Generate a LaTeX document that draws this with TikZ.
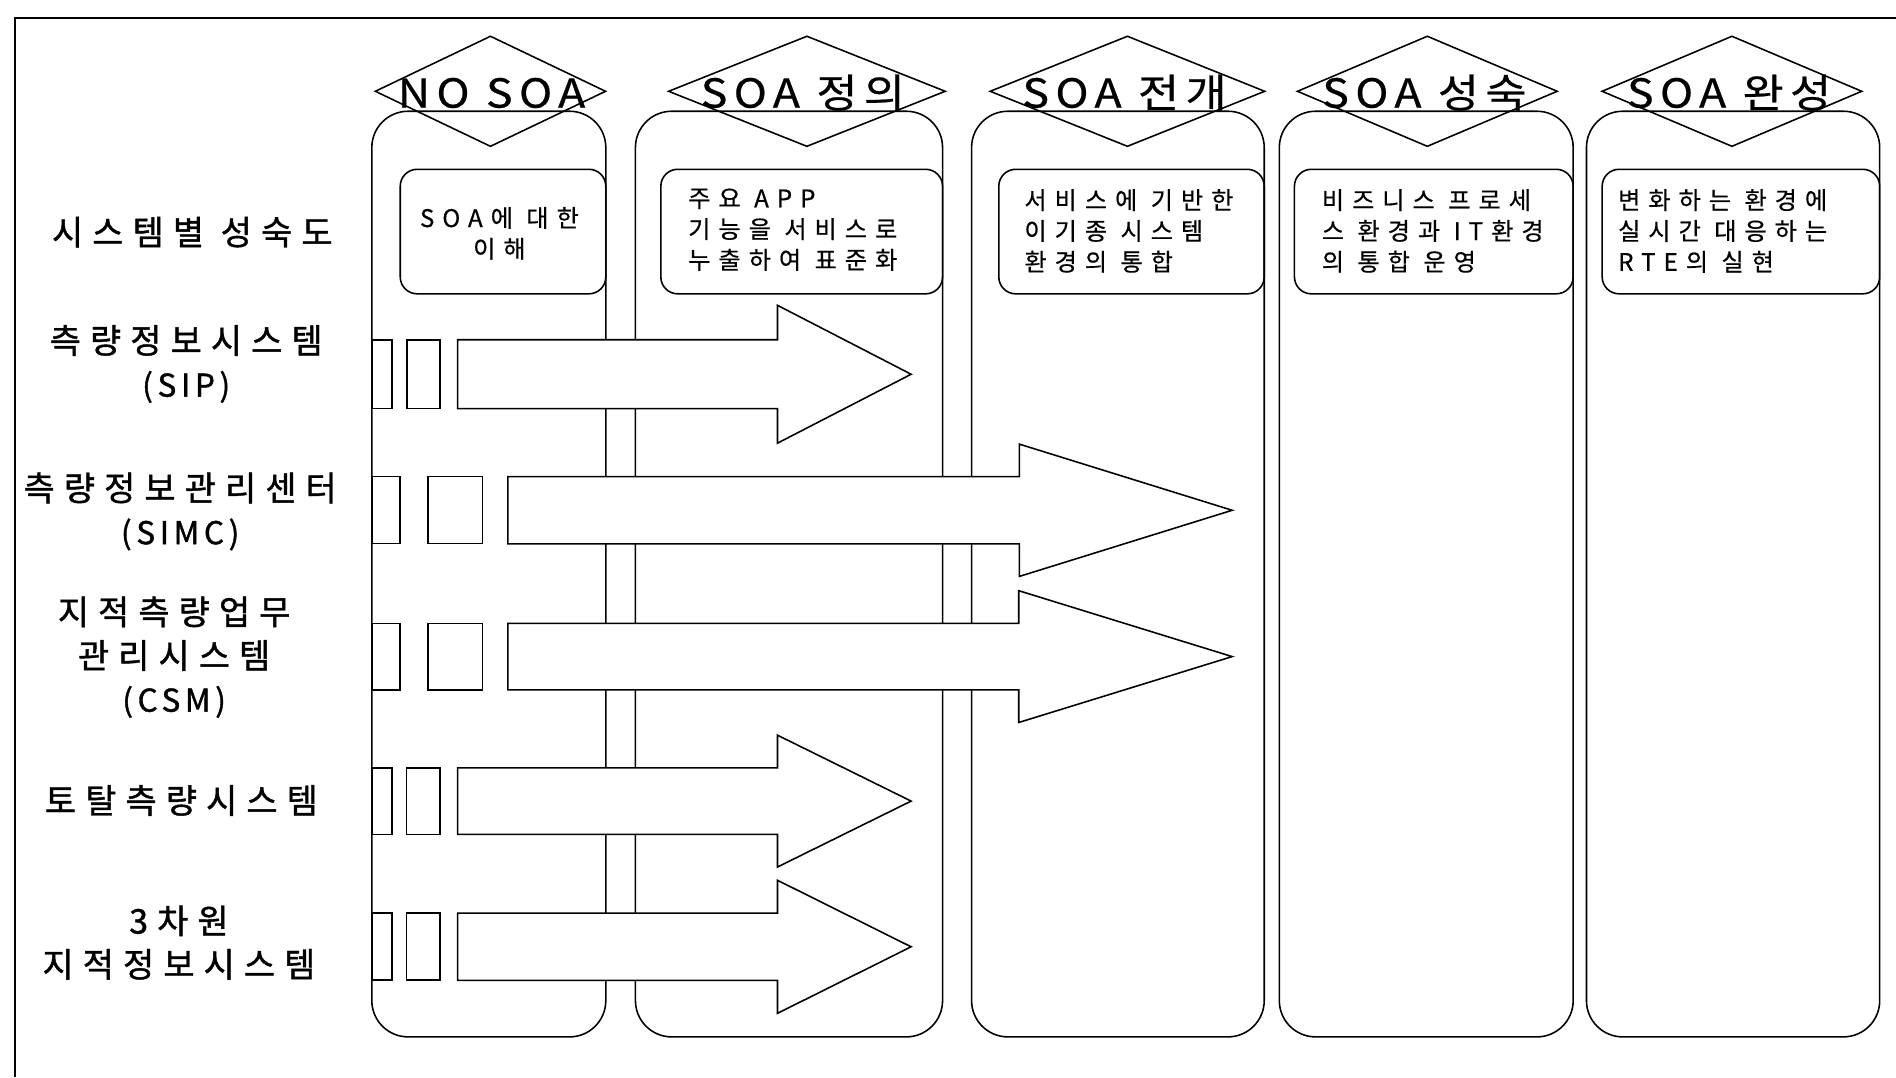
\documentclass[tikz,border=0pt]{standalone}
\usepackage{fontspec}
\setmainfont{Noto Sans CJK KR}
\newfontfamily\hdrfont[LetterSpace=16,FakeStretch=1.12,FakeBold=0.6]{Noto Sans CJK KR}
\newfontfamily\boxfont[LetterSpace=33,FakeBold=0.5]{Noto Sans CJK KR}
\newfontfamily\lblfont[LetterSpace=27,FakeBold=1.2]{Noto Sans CJK KR}
\newfontfamily\parfont[LetterSpace=15,FakeBold=1.2]{Noto Sans CJK KR}
\usetikzlibrary{shapes.geometric}
\tikzset{
  ln/.style={line width=1.3pt},
  colbox/.style={ln, draw, rounded corners=30pt, inner sep=0pt, outer sep=0pt, anchor=north west, minimum height=765.5pt},
  inbox/.style={ln, draw, rounded corners=14pt, inner sep=0pt, outer sep=0pt, anchor=north west, minimum height=103pt},
  phase/.style={ln, draw, diamond, inner sep=0pt, outer sep=0pt, minimum height=91pt},
  phasetext/.style={font=\hdrfont\fontsize{33}{33}\selectfont, anchor=base, inner sep=0pt},
  boxtext/.style={font=\boxfont\fontsize{20}{25.5}\selectfont, inner sep=0pt},
  lbl/.style={font=\lblfont\fontsize{28}{36}\selectfont, align=center, inner sep=0pt},
  barrow/.style={ln, draw, fill=white, line join=miter},
  smallrect/.style={ln, draw, fill=white},
}
\newcommand\blockarrow[6]{%
  \draw[barrow] (#1,#4-#5) -- (#2,#4-#5) -- (#2,#4-#6) -- (#3,#4) -- (#2,#4+#6) -- (#2,#4+#5) -- (#1,#4+#5) -- cycle;}
\newcommand\pt[1]{{\parfont\fontsize{26}{36}\selectfont #1}}
\begin{document}
\begin{tikzpicture}[x=1pt,y=-1pt]
\useasboundingbox (0,0) rectangle (1568,891);
% frame
\draw[line width=1.6pt] (12.4,891) -- (12.4,15) -- (1568,15);

% columns
\node[colbox, minimum width=193.5pt] (c1) at (307.5,92) {};
\node[colbox, minimum width=254pt]   (c2) at (525.5,92) {};
\node[colbox, minimum width=242pt]   (c3) at (803.5,92) {};
\node[colbox, minimum width=243pt]   (c4) at (1058,92) {};
\node[colbox, minimum width=242.5pt] (c5) at (1312,92) {};

% phase diamonds
\node[phase, minimum width=190.4pt] (d1) at (405.6,75.5) {};
\node[phase, minimum width=228.7pt] (d2) at (667.3,75.5) {};
\node[phase, minimum width=227pt]   (d3) at (932.4,75.5) {};
\node[phase, minimum width=214.8pt] (d4) at (1180.4,75.5) {};
\node[phase, minimum width=214.7pt] (d5) at (1432.3,75.5) {};
\node[phasetext] (h1) at (406.5,89) {NO SOA};
\node[phasetext] (h2) at (664,89) {SOA 정의};
\node[phasetext] (h3) at (930,89) {SOA 전개};
\node[phasetext] (h4) at (1178,89) {SOA 성숙};
\node[phasetext] (h5) at (1430,89) {SOA 완성};

% inner boxes
\node[inbox, minimum width=170pt]   (i1) at (331,140) {};
\node[inbox, minimum width=233pt]   (i2) at (546.5,140) {};
\node[inbox, minimum width=219.5pt] (i3) at (826,140) {};
\node[inbox, minimum width=230.5pt] (i4) at (1070.5,140) {};
\node[inbox, minimum width=229.5pt] (i5) at (1325,140) {};
\node[boxtext, align=center, anchor=center] (t1) at (413,193) {SOA에 대한\\이해};
\node[boxtext, align=left, anchor=west] (t2) at (569,190) {주요 APP\\기능을 서비스로\\누출하여 표준화};
\node[boxtext, align=left, anchor=west] (t3) at (847,191) {서비스에 기반한\\이기종 시스템\\환경의 통합};
\node[boxtext, align=left, anchor=west] (t4) at (1093,191) {비즈니스 프로세\\스 환경과 IT환경\\의 통합 운영};
\node[boxtext, align=left, anchor=west] (t5) at (1338,191) {변화하는 환경에\\실시간 대응하는\\RTE의 실현};

% row labels
\node[lbl] (l0) at (159,192) {시스템별 성숙도};
\node[lbl] (l1) at (154,301) {측량정보시스템\\\pt{(SIP)}};
\node[lbl] (l2) at (149,423) {측량정보관리센터\\\pt{(SIMC)}};
\node[lbl] (l3) at (144,543.5) {지적측량업무\\관리시스템\\\pt{(CSM)}};
\node[lbl] (l4) at (150,662) {토탈측량시스템};
\node[lbl] (l5) at (148,779.5) {3차원\\지적정보시스템};

% arrows row 1 (SIP)
\draw[smallrect] (308,281) rectangle (324,338);
\draw[smallrect] (336.5,281) rectangle (364,338);
\blockarrow{378.5}{643}{753.5}{309.5}{28.5}{57}
% row 2 (SIMC)
\draw[smallrect] (308,394) rectangle (331,449.5);
\draw[smallrect] (354,394) rectangle (399,449.5);
\blockarrow{420}{843}{1019}{422}{27.8}{54.7}
% row 3 (CSM)
\draw[smallrect] (308,515.5) rectangle (331,570.5);
\draw[smallrect] (354,515.5) rectangle (399,570.5);
\blockarrow{420}{842.5}{1019}{543}{27.5}{54.5}
% row 4
\draw[smallrect] (308,635) rectangle (324,690);
\draw[smallrect] (336,635) rectangle (364,690);
\blockarrow{378.5}{643}{753.5}{662.5}{27.5}{54.5}
% row 5
\draw[smallrect] (308,755) rectangle (324,810.6);
\draw[smallrect] (336,755) rectangle (364,810.6);
\blockarrow{378.5}{643}{753.5}{783}{27.8}{55}
\end{tikzpicture}
\end{document}
